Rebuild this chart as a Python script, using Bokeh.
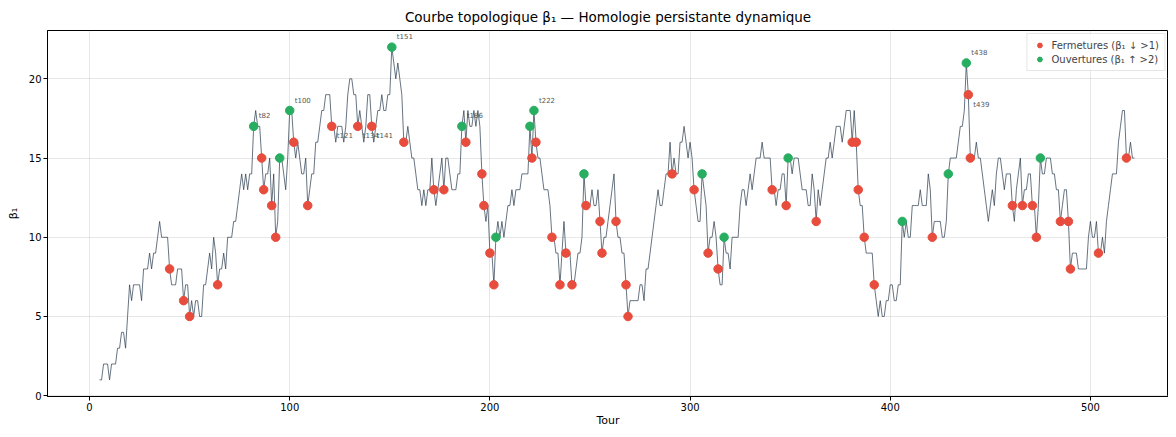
from bokeh.plotting import figure
from bokeh.models import Range1d, FixedTicker, ColumnDataSource
from bokeh.core.properties import value
from bokeh.embed import file_html
from bokeh.resources import INLINE

# ---- data ----
start_turn = 5
beta = [
    1, 1, 2, 2, 2, 1, 2, 2, 2, 3,          # 5-14
    3, 4, 4, 3, 5, 7, 6, 7, 7, 7,          # 15-24
    7, 6, 8, 8, 8, 9, 8, 9, 9, 10,         # 25-34
    11, 10, 10, 10, 10, 8, 7, 7, 7, 8,     # 35-44
    8, 8, 6, 7, 7, 5, 6, 5, 6, 6,          # 45-54
    5, 5, 7, 7, 8, 9, 8, 10, 9, 7,         # 55-64
    8, 8, 9, 8, 10, 10, 10, 11, 11, 12,    # 65-74
    13, 14, 13, 14, 13, 14, 14, 17, 18, 17,  # 75-84
    17, 15, 13, 14, 14, 15, 12, 14, 10, 11,  # 85-94
    15, 15, 14, 13, 15, 18, 18, 16, 15, 16,  # 95-104
    15, 14, 14, 15, 12, 13, 14, 14, 16, 16,  # 105-114
    17, 18, 18, 19, 19, 19, 17, 17, 16, 17,  # 115-124
    17, 17, 16, 17, 19, 20, 20, 19, 19, 17,  # 125-134
    18, 17, 16, 17, 19, 19, 17, 16, 17, 18,  # 135-144
    18, 19, 18, 18, 19, 19, 22, 21, 20, 21,  # 145-154
    20, 19, 16, 16, 17, 16, 15, 15, 14, 13,  # 155-164
    13, 12, 13, 12, 13, 13, 15, 13, 12, 13,  # 165-174
    14, 15, 13, 15, 15, 14, 13, 13, 13, 14,  # 175-184
    14, 17, 18, 16, 18, 17, 17, 18, 17, 18,  # 185-194
    17, 14, 12, 11, 12, 9, 9, 7, 10, 11,     # 195-204
    10, 11, 10, 11, 12, 12, 13, 12, 13, 13,  # 205-214
    13, 14, 14, 14, 14, 17, 15, 18, 16, 15,  # 215-224
    15, 14, 13, 13, 13, 12, 10, 10, 9, 9,    # 225-234
    7, 9, 11, 9, 9, 9, 7, 7, 8, 9,           # 235-244
    9, 10, 14, 12, 12, 12, 13, 12, 12, 13,   # 245-254
    11, 9, 10, 10, 11, 12, 13, 14, 11, 10,   # 255-264
    10, 9, 9, 7, 5, 6, 6, 6, 6, 6,           # 265-274
    7, 7, 6, 8, 8, 9, 10, 11, 12, 13,        # 275-284
    12, 12, 13, 14, 14, 16, 14, 15, 14, 14,  # 285-294
    16, 16, 17, 16, 15, 16, 15, 13, 12, 11,  # 295-304
    11, 14, 13, 12, 9, 10, 10, 11, 10, 8,    # 305-314
    7, 7, 10, 9, 9, 8, 10, 10, 10, 10,       # 315-324
    12, 13, 13, 12, 13, 14, 13, 14, 15, 15,  # 325-334
    15, 16, 15, 15, 15, 15, 13, 13, 12, 13,  # 335-344
    13, 14, 14, 12, 15, 15, 14, 15, 15, 15,  # 345-354
    14, 13, 13, 13, 12, 12, 14, 13, 11, 13,  # 355-364
    12, 13, 14, 15, 15, 16, 15, 16, 17, 17,  # 365-374
    17, 16, 17, 18, 18, 18, 16, 18, 16, 13,  # 375-384
    12, 12, 10, 9, 9, 9, 9, 7, 6, 5,         # 385-394
    6, 5, 5, 6, 6, 7, 7, 6, 6, 7,            # 395-404
    7, 11, 10, 11, 10, 10, 12, 12, 12, 12,   # 405-414
    13, 12, 12, 12, 14, 13, 10, 11, 11, 11,  # 415-424
    11, 10, 10, 11, 14, 15, 15, 15, 15, 16,  # 425-434
    17, 17, 18, 21, 19, 15, 15, 15, 16, 15,  # 435-444
    15, 14, 13, 12, 11, 12, 13, 12, 14, 15,  # 445-454
    15, 14, 13, 14, 14, 14, 12, 11, 13, 14,  # 455-464
    15, 12, 13, 13, 14, 14, 12, 12, 10, 12,  # 465-474
    15, 14, 14, 15, 15, 15, 14, 14, 13, 13,  # 475-484
    11, 12, 13, 13, 11, 8, 9, 9, 9, 8,       # 485-494
    8, 8, 8, 8, 10, 11, 10, 10, 11, 9,       # 495-504
    9, 10, 9, 11, 12, 13, 14, 14, 14, 16,    # 505-514
    17, 18, 18, 15, 15, 16, 15, 15,          # 515-522
]
turns = list(range(start_turn, start_turn + len(beta)))
labelled_turns = [82, 100, 121, 134, 141, 151, 186, 222, 438, 439]
x_ticks = [0, 100, 200, 300, 400, 500]
y_ticks = [0, 5, 10, 15, 20]

# ---- events from the series ----
close_x, close_y, open_x, open_y = [], [], [], []
for i in range(1, len(beta)):
    d = beta[i] - beta[i - 1]
    if d < -1:
        close_x.append(turns[i]); close_y.append(beta[i])
    elif d > 2:
        open_x.append(turns[i]); open_y.append(beta[i])

lab_x, lab_y, lab_t, lab_off = [], [], [], []
for t in labelled_turns:
    i = turns.index(t)
    lab_x.append(t); lab_y.append(beta[i]); lab_t.append(f"t{t}")
    lab_off.append(-10 if t in open_x else 10)

FONT = "DejaVu Sans"

p = figure(width=1168, height=429,
           x_range=Range1d(-21, 539), y_range=Range1d(-0.05, 23.05),
           output_backend="svg", toolbar_location=None,
           title="Courbe topologique β₁ — Homologie persistante dynamique",
           min_border_left=47, min_border_right=0, min_border_top=0, min_border_bottom=0)
p.background_fill_color = "white"
p.border_fill_color = "white"
p.outline_line_color = "black"
p.outline_line_width = 1

p.title.align = "center"
p.title.offset = 10
p.title.text_font = FONT
p.title.text_font_style = "normal"
p.title.text_font_size = "13.5px"
p.title.text_color = "#000000"
p.title.standoff = 12

p.line(turns, beta, line_color="#2c3e50", line_alpha=0.72, line_width=1)

p.scatter(close_x, close_y, size=8.5, fill_color="#e74c3c", line_color="#e74c3c",
          legend_label="Fermetures (β₁ ↓ >1)")
p.scatter(open_x, open_y, size=8.5, fill_color="#27ae60", line_color="#27ae60",
          legend_label="Ouvertures (β₁ ↑ >2)")

src = ColumnDataSource(dict(x=lab_x, y=lab_y, t=lab_t, off=lab_off))
p.text(x="x", y="y", text="t", source=src, x_offset=5, y_offset="off",
       text_font=value(FONT), text_font_size="7px", text_color="#555555",
       text_baseline="middle", text_align="left")

for ax in (p.xaxis, p.yaxis):
    ax.axis_line_color = "black"
    ax.major_tick_line_color = "black"
    ax.minor_tick_line_color = None
    ax.major_tick_in = 0
    ax.major_tick_out = 4
    ax.major_label_text_font = FONT
    ax.major_label_text_font_size = "10px"
    ax.major_label_text_color = "#000000"
    ax.major_label_text_line_height = 1.0
    ax.axis_label_text_font = FONT
    ax.axis_label_text_font_size = "11px"
    ax.axis_label_text_font_style = "normal"
    ax.axis_label_text_color = "#000000"
    ax.axis_label_text_line_height = 1.0
    ax.major_label_standoff = 2
    ax.axis_label_standoff = 0

p.yaxis.axis_label_standoff = 6
p.xaxis.ticker = FixedTicker(ticks=x_ticks)
p.yaxis.ticker = FixedTicker(ticks=y_ticks)
p.xaxis.axis_label = "Tour"
p.yaxis.axis_label = "β₁"

p.xgrid.ticker = FixedTicker(ticks=x_ticks)
p.ygrid.ticker = FixedTicker(ticks=y_ticks)
for g in (p.xgrid, p.ygrid):
    g.grid_line_color = "#b0b0b0"
    g.grid_line_alpha = 0.3
    g.grid_line_width = 1

p.legend.location = "top_right"
p.legend.label_text_font = FONT
p.legend.label_text_font_size = "10px"
p.legend.label_height = 12
p.legend.glyph_height = 12
p.legend.glyph_width = 14
p.legend.spacing = 2
p.legend.padding = 5
p.legend.margin = 3
p.legend.border_line_color = "#cccccc"
p.legend.background_fill_alpha = 0.8

open("out.html", "w").write(file_html(p, INLINE))
